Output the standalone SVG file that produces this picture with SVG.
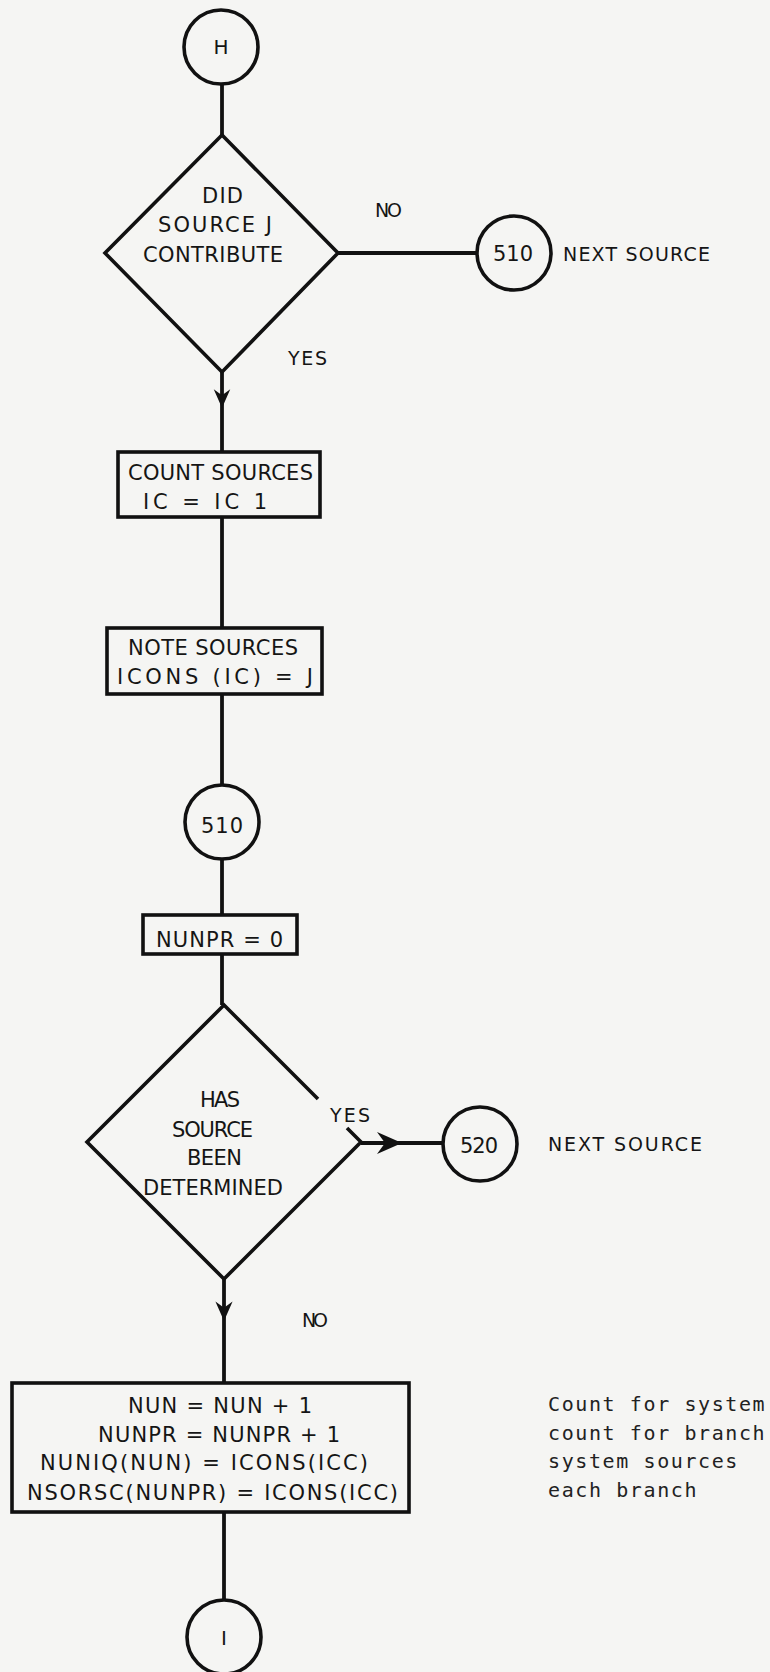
<svg xmlns="http://www.w3.org/2000/svg" width="770" height="1672" viewBox="0 0 770 1672">
<defs>
<style>
.bg{fill:#f5f5f3}
.ln{stroke:#111;stroke-width:3.8;fill:none;stroke-linecap:butt}
.sh{stroke:#111;stroke-width:3.6;fill:none;stroke-linejoin:miter}
.t{font-family:"DejaVu Sans","Liberation Sans",sans-serif;font-size:21px;fill:#151515}
.tc{font-family:"DejaVu Sans","Liberation Sans",sans-serif;font-size:20px;fill:#151515;text-anchor:middle}
.m{font-family:"DejaVu Sans Mono","Liberation Mono",monospace;font-size:20px;letter-spacing:1.6px;fill:#222}
.ah{fill:#111}
</style>
<path id="ah" d="M0,0 L-25,-11 L-17,0 L-25,11 Z"/>
</defs>
<rect class="bg" x="0" y="0" width="770" height="1672"/>

<g id="connectors">
<line class="ln" x1="222" y1="84" x2="222" y2="135"/>
<line class="ln" x1="338" y1="253" x2="477" y2="253"/>
<line class="ln" x1="222" y1="372" x2="222" y2="452"/>
<use class="ah" href="#ah" transform="translate(222,408) rotate(90) scale(0.75)"/>
<line class="ln" x1="222" y1="517" x2="222" y2="628"/>
<line class="ln" x1="222" y1="694" x2="222" y2="785"/>
<line class="ln" x1="222" y1="859" x2="222" y2="915"/>
<line class="ln" x1="222" y1="954" x2="222" y2="1005"/>
<line class="ln" x1="361" y1="1143" x2="443" y2="1143"/>
<use class="ah" href="#ah" transform="translate(402,1143)"/>
<line class="ln" x1="224" y1="1279" x2="224" y2="1383"/>
<use class="ah" href="#ah" transform="translate(224,1321) rotate(90) scale(0.78)"/>
<line class="ln" x1="224" y1="1512" x2="224" y2="1600"/>
</g>

<g id="nodeH">
<circle class="sh" cx="221" cy="47" r="37"/>
<text class="tc" x="221" y="54">H</text>
</g>

<g id="decision1">
<polygon class="sh" points="222,135 338,253 222,372 105,253"/>
<text class="t" x="202" y="203" textLength="41" lengthAdjust="spacing">DID</text>
<text class="t" x="158" y="232" textLength="114" lengthAdjust="spacing">SOURCE J</text>
<text class="t" x="143" y="262" textLength="140" lengthAdjust="spacing">CONTRIBUTE</text>
<text class="t" x="375" y="217" textLength="27" lengthAdjust="spacing" style="font-size:19px">NO</text>
<text class="t" x="288" y="365" textLength="39" lengthAdjust="spacing" style="font-size:19px">YES</text>
</g>

<g id="connector510a">
<circle class="sh" cx="514" cy="253" r="37"/>
<text class="t" x="493" y="261" textLength="40" lengthAdjust="spacing">510</text>
<text class="t" x="563" y="261" textLength="147" lengthAdjust="spacing" style="font-size:19px">NEXT SOURCE</text>
</g>

<g id="countSources">
<rect class="sh" x="118" y="452" width="202" height="65"/>
<text class="t" x="128" y="480" textLength="185" lengthAdjust="spacing">COUNT SOURCES</text>
<text class="t" x="143" y="509" textLength="124" lengthAdjust="spacing">IC = IC 1</text>
</g>

<g id="noteSources">
<rect class="sh" x="107" y="628" width="215" height="66"/>
<text class="t" x="128" y="655" textLength="170" lengthAdjust="spacing">NOTE SOURCES</text>
<text class="t" x="117" y="684" textLength="196" lengthAdjust="spacing">ICONS (IC) = J</text>
</g>

<g id="connector510b">
<circle class="sh" cx="222" cy="822" r="37"/>
<text class="t" x="201" y="833" textLength="42" lengthAdjust="spacing">510</text>
</g>

<g id="initNunpr">
<rect class="sh" x="143" y="915" width="154" height="39"/>
<text class="t" x="156" y="947" textLength="127" lengthAdjust="spacing">NUNPR = 0</text>
</g>

<g id="decision2">
<path class="sh" d="M318,1099 L224,1005 L87,1142 L224,1279 L361,1142 L347,1128"/>
<text class="t" x="200" y="1107" textLength="40" lengthAdjust="spacing">HAS</text>
<text class="t" x="172" y="1137" textLength="81" lengthAdjust="spacing">SOURCE</text>
<text class="t" x="187" y="1165" textLength="55" lengthAdjust="spacing">BEEN</text>
<text class="t" x="143" y="1195" textLength="140" lengthAdjust="spacing">DETERMINED</text>
<text class="t" x="330" y="1122" textLength="40" lengthAdjust="spacing" style="font-size:19px">YES</text>
<text class="t" x="302" y="1327" textLength="26" lengthAdjust="spacing" style="font-size:19px">NO</text>
</g>

<g id="connector520">
<circle class="sh" cx="480" cy="1144" r="37"/>
<text class="t" x="460" y="1153" textLength="38" lengthAdjust="spacing">520</text>
<text class="t" x="548" y="1151" textLength="154" lengthAdjust="spacing" style="font-size:19px">NEXT SOURCE</text>
</g>

<g id="updateCounts">
<rect class="sh" x="12" y="1383" width="397" height="129"/>
<text class="t" x="128" y="1413" textLength="184" lengthAdjust="spacing">NUN = NUN + 1</text>
<text class="t" x="98" y="1442" textLength="242" lengthAdjust="spacing">NUNPR = NUNPR + 1</text>
<text class="t" x="40" y="1470" textLength="328" lengthAdjust="spacing">NUNIQ(NUN) = ICONS(ICC)</text>
<text class="t" x="27" y="1500" textLength="371" lengthAdjust="spacing">NSORSC(NUNPR) = ICONS(ICC)</text>
</g>

<g id="note">
<text class="m" x="548" y="1411">Count for system</text>
<text class="m" x="548" y="1440">count for branch</text>
<text class="m" x="548" y="1468">system sources</text>
<text class="m" x="548" y="1497">each branch</text>
</g>

<g id="nodeI">
<circle class="sh" cx="224" cy="1637" r="37"/>
<text class="tc" x="224" y="1645">I</text>
</g>
</svg>
